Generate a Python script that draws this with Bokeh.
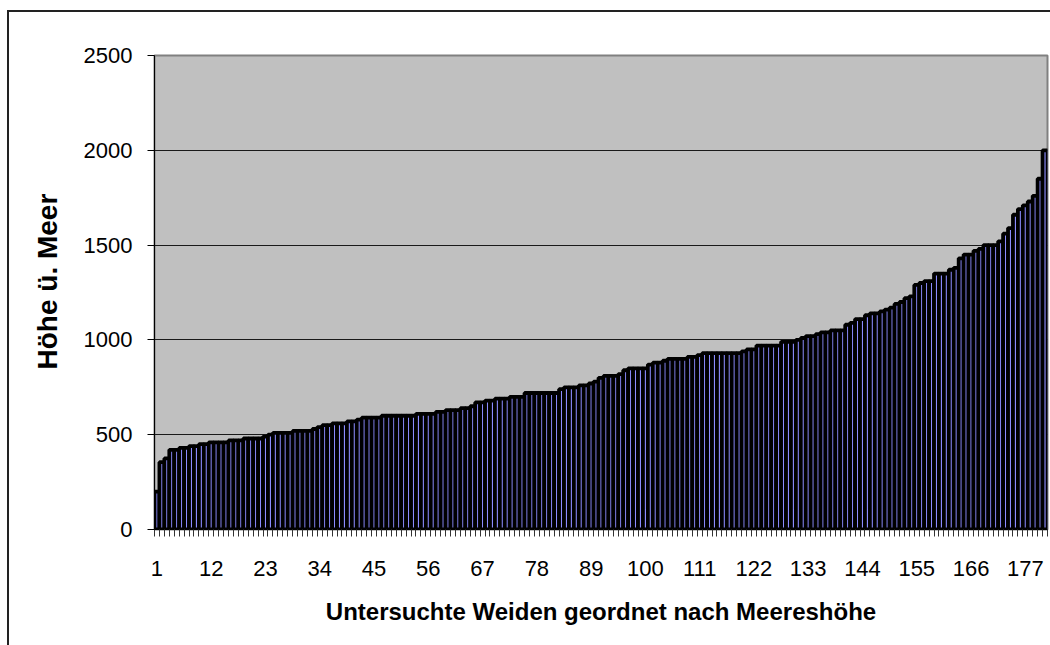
from bokeh.plotting import figure
from bokeh.models import Range1d, FixedTicker, ColumnDataSource, Title
from bokeh.embed import file_html
from bokeh.resources import INLINE

# Heights (m above sea level) of the surveyed willows, sorted ascending
heights = [
    200, 355, 375, 420, 420, 430, 430, 440, 440, 450,
    450, 460, 460, 460, 460, 470, 470, 470, 480, 480,
    480, 480, 490, 500, 510, 510, 510, 510, 520, 520,
    520, 520, 530, 540, 550, 550, 560, 560, 560, 570,
    570, 580, 590, 590, 590, 590, 600, 600, 600, 600,
    600, 600, 600, 610, 610, 610, 610, 620, 620, 630,
    630, 630, 640, 640, 650, 670, 670, 680, 680, 690,
    690, 690, 700, 700, 700, 720, 720, 720, 720, 720,
    720, 720, 740, 750, 750, 750, 760, 760, 770, 780,
    800, 810, 810, 810, 820, 840, 850, 850, 850, 850,
    870, 880, 880, 890, 900, 900, 900, 900, 910, 910,
    920, 930, 930, 930, 930, 930, 930, 930, 930, 940,
    950, 950, 970, 970, 970, 970, 970, 990, 990, 990,
    1000, 1010, 1020, 1020, 1030, 1040, 1040, 1050, 1050, 1050,
    1080, 1090, 1110, 1110, 1130, 1140, 1140, 1150, 1160, 1170,
    1190, 1200, 1220, 1230, 1290, 1300, 1310, 1310, 1350, 1350,
    1350, 1370, 1380, 1430, 1450, 1450, 1470, 1480, 1500, 1500,
    1500, 1520, 1560, 1590, 1660, 1690, 1710, 1730, 1760, 1850,
    2000,
]
ids = list(range(1, len(heights) + 1))
x_tick_labels = list(range(1, len(heights) + 1, 11))
y_ticks = [0, 500, 1000, 1500, 2000, 2500]
y_title = "Höhe ü. Meer"
x_title = "Untersuchte Weiden geordnet nach Meereshöhe"

N = len(heights)
source = ColumnDataSource(data=dict(x=ids, top=heights))

W, H = 1050, 645
LEFT, TOP, BOTTOM = 154, 55, 116
frame_w = int(round(N * 4.935))
p = figure(
    width=W, height=H,
    output_backend="svg", toolbar_location=None,
    x_range=Range1d(0.5, N + 0.5), y_range=Range1d(0, 2500),
    min_border_left=LEFT, min_border_top=TOP, min_border_bottom=BOTTOM,
    min_border_right=max(W - LEFT - frame_w, 0),
)
# outer chart frame (left and top edges visible in the cropped picture)
p.styles = {
    "background": "linear-gradient(#222,#222) 7px 10px / 2px 100% no-repeat, "
                  "linear-gradient(#222,#222) 7px 10px / 100% 2px no-repeat, white",
}

p.background_fill_color = "#C0C0C0"
p.border_fill_color = None
p.outline_line_color = "#808080"
p.outline_line_width = 2

p.vbar(x="x", top="top", width=1.0, source=source,
       fill_color="#8C8CFF", line_color="black", line_width=3.8)

# grid
p.xgrid.grid_line_color = None
p.ygrid.grid_line_color = "#1a1a1a"
p.ygrid.grid_line_width = 1
p.ygrid.ticker = FixedTicker(ticks=y_ticks)

# y axis
p.yaxis.ticker = FixedTicker(ticks=y_ticks)
p.yaxis.major_label_text_font = "Liberation Sans"
p.yaxis.major_label_text_font_size = "22px"
p.yaxis.major_label_text_color = "black"
p.yaxis.major_label_standoff = 15
p.yaxis.major_tick_out = 7
p.yaxis.major_tick_in = 0
p.yaxis.minor_tick_out = 0
p.yaxis.minor_tick_in = 0
p.yaxis.axis_line_color = "black"
p.yaxis.major_tick_line_color = "black"

# y axis title (starts a bit above the plot bottom, as in the original)
p.add_layout(Title(text=y_title, align="left", offset=160, standoff=36,
                   text_font="Liberation Sans", text_font_style="bold",
                   text_font_size="28px", text_color="black"), "left")

# x axis
p.xaxis.ticker = FixedTicker(ticks=x_tick_labels,
                             minor_ticks=[i + 0.5 for i in range(0, N + 1)])
p.xaxis.axis_label = x_title
p.xaxis.axis_label_text_font = "Liberation Sans"
p.xaxis.axis_label_text_font_style = "bold"
p.xaxis.axis_label_text_font_size = "24px"
p.xaxis.axis_label_text_color = "black"
p.xaxis.axis_label_standoff = 19
p.xaxis.major_label_text_font = "Liberation Sans"
p.xaxis.major_label_text_font_size = "22px"
p.xaxis.major_label_text_color = "black"
p.xaxis.major_label_standoff = 24
p.xaxis.major_tick_out = 0
p.xaxis.major_tick_in = 0
p.xaxis.minor_tick_out = 7
p.xaxis.minor_tick_in = 0
p.xaxis.minor_tick_line_color = "#333333"
p.xaxis.axis_line_color = "black"

open("out.html", "w").write(file_html(p, INLINE))
